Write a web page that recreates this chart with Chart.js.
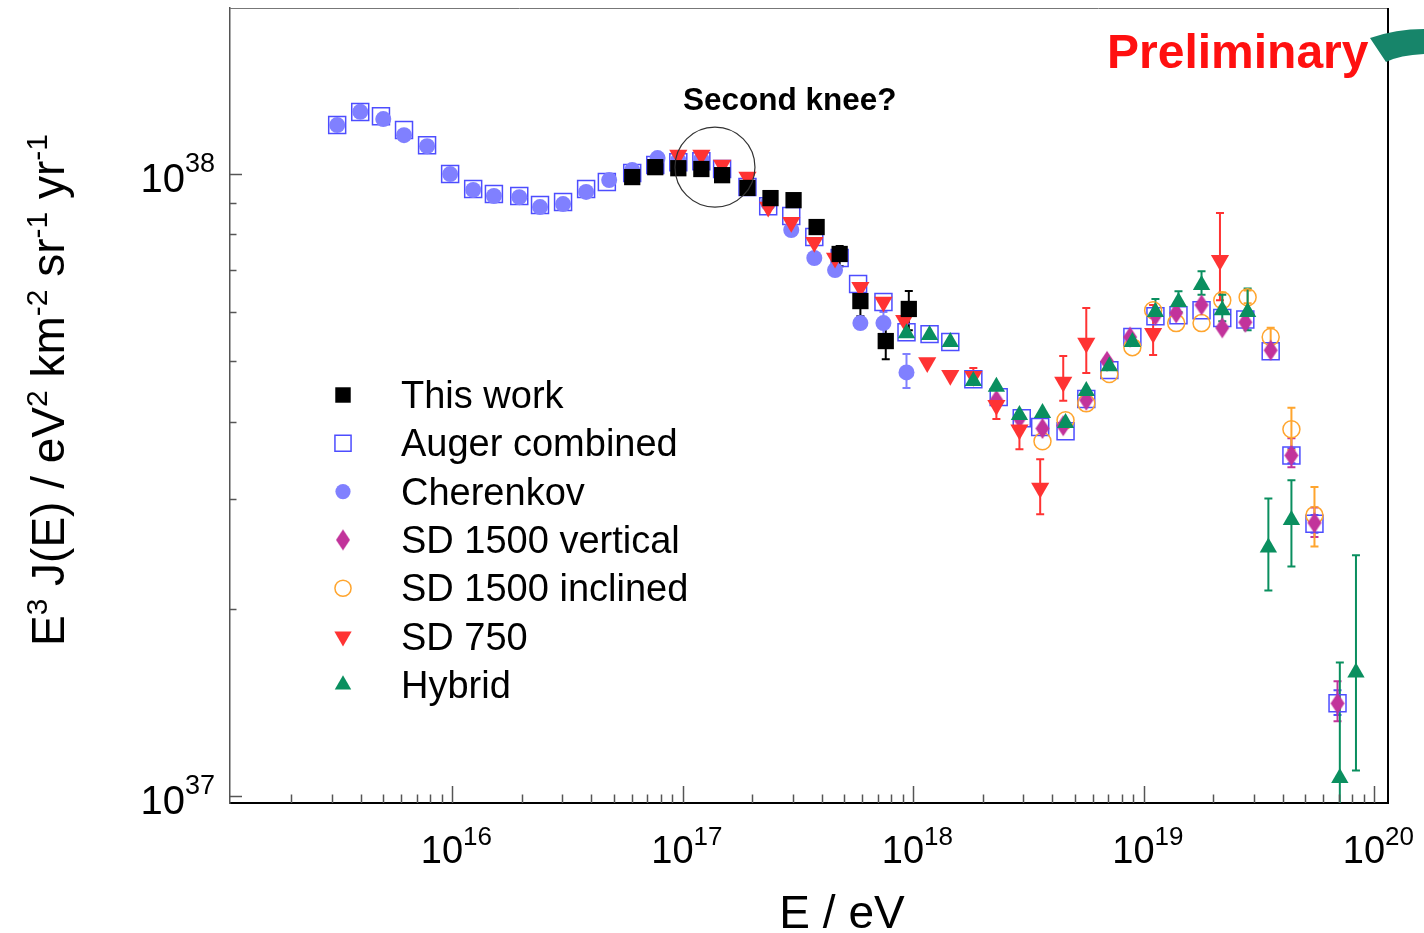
<!DOCTYPE html>
<html>
<head>
<meta charset="utf-8">
<script src="https://cdn.jsdelivr.net/npm/chart.js@4.4.1/dist/chart.umd.min.js"></script>
<style>
  html, body { margin: 0; padding: 0; background: #fff; }
  #wrap { width: 1424px; height: 933px; }
</style>
</head>
<body>
<div id="wrap"><canvas id="spectrum" width="1424" height="933"></canvas></div>
<script>
// Energies as lg(E/eV), flux E^3 J(E) in units of 1e38 eV^2 km^-2 sr^-1 yr^-1

const thisWorkLgE  = [16.78, 16.88, 16.98, 17.08, 17.17, 17.28, 17.38, 17.48, 17.58, 17.68, 17.77, 17.88, 17.98];
const thisWorkFlux = [0.989, 1.026, 1.022, 1.019, 0.996, 0.950, 0.915, 0.908, 0.822, 0.744, 0.625, 0.539, 0.607];
const thisWorkLo   = [null, null, null, null, null, null, null, null, 0.810, 0.711, 0.591, 0.504, 0.561];
const thisWorkHi   = [null, null, null, null, null, null, null, null, 0.836, 0.766, 0.658, 0.576, 0.649];

const augerLgE  = [15.50, 15.60, 15.69, 15.79, 15.89, 15.99, 16.09, 16.18, 16.29, 16.38, 16.48, 16.58, 16.67, 16.78, 16.88, 16.98,
                   17.08, 17.17, 17.28, 17.37, 17.47, 17.57, 17.68, 17.76, 17.87, 17.97,
                   18.07, 18.16, 18.26, 18.37, 18.47, 18.55, 18.66, 18.75, 18.85, 18.95,
                   19.05, 19.15, 19.25, 19.34, 19.44, 19.55, 19.64, 19.74, 19.84];
const augerFlux = [1.199, 1.258, 1.239, 1.177, 1.113, 1.000, 0.946, 0.929, 0.922, 0.892, 0.902, 0.946, 0.971, 1.004, 1.034, 1.045,
                   1.049, 1.019, 0.953, 0.888, 0.856, 0.792, 0.733, 0.666, 0.623, 0.557,
                   0.553, 0.537, 0.468, 0.438, 0.405, 0.392, 0.386, 0.435, 0.484, 0.547,
                   0.591, 0.593, 0.604, 0.587, 0.584, 0.519, 0.353, 0.274, 0.141];
const augerLo = augerLgE.map((_, i) => ({ 42: 0.343, 43: 0.265, 44: 0.135 })[i] ?? null);
const augerHi = augerLgE.map((_, i) => ({ 42: 0.362, 43: 0.283, 44: 0.148 })[i] ?? null);

const cherenkovLgE  = [15.50, 15.60, 15.70, 15.79, 15.89, 15.99, 16.09, 16.18, 16.29, 16.38, 16.48, 16.58, 16.68, 16.78, 16.89, 16.98,
                       17.08, 17.37, 17.47, 17.57, 17.66, 17.77, 17.87, 17.97];
const cherenkovFlux = [1.199, 1.259, 1.226, 1.155, 1.109, 1.000, 0.943, 0.922, 0.918, 0.885, 0.895, 0.936, 0.978, 1.015, 1.061, 1.053,
                       1.057, 0.898, 0.813, 0.733, 0.701, 0.576, 0.576, 0.480];
const cherenkovLo = cherenkovLgE.map((_, i) => ({ 22: 0.551, 23: 0.453 })[i] ?? null);
const cherenkovHi = cherenkovLgE.map((_, i) => ({ 22: 0.600, 23: 0.514 })[i] ?? null);

const sdVertLgE  = [18.36, 18.46, 18.56, 18.65, 18.75, 18.84, 18.94, 19.05, 19.14, 19.25, 19.34, 19.44, 19.55, 19.64, 19.74, 19.84];
const sdVertFlux = [0.433, 0.405, 0.390, 0.394, 0.433, 0.500, 0.547, 0.593, 0.598, 0.616, 0.566, 0.578, 0.521, 0.353, 0.275, 0.141];
const sdVertLo = sdVertLgE.map((_, i) => ({ 13: 0.338, 14: 0.261, 15: 0.132 })[i] ?? null);
const sdVertHi = sdVertLgE.map((_, i) => ({ 13: 0.376, 14: 0.291, 15: 0.153 })[i] ?? null);

const sdInclLgE  = [18.56, 18.66, 18.75, 18.85, 18.95, 19.04, 19.14, 19.25, 19.34, 19.45, 19.55, 19.64, 19.74];
const sdInclFlux = [0.372, 0.402, 0.428, 0.477, 0.527, 0.604, 0.576, 0.576, 0.627, 0.634, 0.547, 0.389, 0.283];
const sdInclLo = sdInclLgE.map((_, i) => ({ 8: 0.612, 9: 0.620, 10: 0.535, 11: 0.360, 12: 0.252 })[i] ?? null);
const sdInclHi = sdInclLgE.map((_, i) => ({ 8: 0.645, 9: 0.650, 10: 0.566, 11: 0.421, 12: 0.314 })[i] ?? null);

const sd750LgE  = [16.98, 17.08, 17.17, 17.28, 17.37, 17.47, 17.57, 17.66, 17.77, 17.87, 17.96, 18.06, 18.16, 18.26, 18.36, 18.46,
                   18.55, 18.65, 18.75, 19.04, 19.33];
const sd750Flux = [1.073, 1.073, 1.034, 0.989, 0.885, 0.837, 0.777, 0.733, 0.658, 0.623, 0.582, 0.498, 0.475, 0.473, 0.425, 0.388,
                   0.313, 0.463, 0.535, 0.555, 0.727];
const sd750Lo = sd750LgE.map((_, i) => ({ 13: 0.460, 14: 0.404, 15: 0.361, 16: 0.284, 17: 0.432, 18: 0.479, 19: 0.512, 20: 0.627 })[i] ?? null);
const sd750Hi = sd750LgE.map((_, i) => ({ 13: 0.488, 14: 0.436, 15: 0.412, 16: 0.348, 17: 0.510, 18: 0.609, 19: 0.616, 20: 0.866 })[i] ?? null);

const hybridLgE  = [17.97, 18.07, 18.16, 18.26, 18.36, 18.46, 18.56, 18.66, 18.75, 18.85, 18.95, 19.05, 19.15, 19.25, 19.34, 19.45,
                    19.54, 19.64, 19.85, 19.92];
const hybridFlux = [0.555, 0.551, 0.537, 0.465, 0.455, 0.410, 0.413, 0.398, 0.448, 0.491, 0.537, 0.600, 0.623, 0.663, 0.604, 0.600,
                    0.251, 0.278, 0.107, 0.158];
const hybridLo = hybridLgE.map((_, i) => ({ 11: 0.587, 12: 0.600, 13: 0.640, 14: 0.580, 15: 0.561, 16: 0.214, 17: 0.234, 18: 0.080, 19: 0.110 })[i] ?? null);
const hybridHi = hybridLgE.map((_, i) => ({ 11: 0.630, 12: 0.648, 13: 0.698, 14: 0.640, 15: 0.655, 16: 0.301, 17: 0.322, 18: 0.164, 19: 0.244 })[i] ?? null);

// axis
const xExpTicks = [16, 17, 18, 19, 20];
const yExpTicks = [37, 38];

const UNIT = 1e38;
const FONT = '"Liberation Sans", Arial, Helvetica, sans-serif';

const pts = (lg, f) => lg.map((v, i) => ({ x: Math.pow(10, v), y: f[i] * UNIT }));

// tall diamond marker like the ROOT one
function diamondMarker(w, h, color) {
  const c = document.createElement('canvas');
  c.width = w + 2; c.height = h + 2;
  const g = c.getContext('2d');
  g.fillStyle = color;
  g.beginPath();
  g.moveTo(c.width / 2, 1);
  g.lineTo(c.width - 1, c.height / 2);
  g.lineTo(c.width / 2, c.height - 1);
  g.lineTo(1, c.height / 2);
  g.closePath();
  g.fill();
  return c;
}

const C = {
  work: '#000000',
  auger: '#4d4dff',
  cher: '#8080ff',
  vert: '#c2339b',
  incl: '#ffa52e',
  sd750: '#ff3333',
  hybrid: '#0a8f5f'
};

function series(label, lg, f, lo, hi, style, extra) {
  return Object.assign({
    label,
    data: pts(lg, f),
    errLo: lo, errHi: hi,
    errColor: style.color,
    pointStyle: style.pointStyle,
    pointRadius: style.radius,
    pointRotation: style.rotation || 0,
    pointBackgroundColor: style.fill,
    pointBorderColor: style.color,
    pointBorderWidth: style.borderWidth || 0,
    showLine: false
  }, extra);
}

const datasets = [
  series('This work', thisWorkLgE, thisWorkFlux, thisWorkLo, thisWorkHi,
    { color: C.work, fill: C.work, pointStyle: 'rect', radius: 11.5 }, { order: 0 }),
  series('Auger combined', augerLgE, augerFlux, augerLo, augerHi,
    { color: C.auger, fill: 'rgba(0,0,0,0)', pointStyle: 'rect', radius: 12, borderWidth: 1.5 }, { order: 6 }),
  series('Cherenkov', cherenkovLgE, cherenkovFlux, cherenkovLo, cherenkovHi,
    { color: C.cher, fill: C.cher, pointStyle: 'circle', radius: 8 }, { order: 5 }),
  series('SD 1500 vertical', sdVertLgE, sdVertFlux, sdVertLo, sdVertHi,
    { color: C.vert, fill: C.vert, pointStyle: diamondMarker(14, 21, C.vert), radius: 10 }, { order: 3 }),
  series('SD 1500 inclined', sdInclLgE, sdInclFlux, sdInclLo, sdInclHi,
    { color: C.incl, fill: 'rgba(0,0,0,0)', pointStyle: 'circle', radius: 8.5, borderWidth: 1.5 }, { order: 4 }),
  series('SD 750', sd750LgE, sd750Flux, sd750Lo, sd750Hi,
    { color: C.sd750, fill: C.sd750, pointStyle: 'triangle', radius: 10.5, rotation: 180 }, { order: 2 }),
  series('Hybrid', hybridLgE, hybridFlux, hybridLo, hybridHi,
    { color: C.hybrid, fill: C.hybrid, pointStyle: 'triangle', radius: 10 }, { order: 1 })
];

// text with superscripts: parts = [[text, isSup], ...]
function richWidth(ctx, parts, size, supSize) {
  let w = 0;
  parts.forEach(([t, sup]) => {
    ctx.font = `${sup ? supSize : size}px ${FONT}`;
    w += ctx.measureText(t).width;
  });
  return w;
}
function drawRich(ctx, parts, x, y, size, supSize, rise) {
  let cx = x;
  parts.forEach(([t, sup]) => {
    ctx.font = `${sup ? supSize : size}px ${FONT}`;
    ctx.fillText(t, cx, sup ? y - rise : y);
    cx += ctx.measureText(t).width;
  });
}

function markerLegend(ctx, ds, x, y) {
  ctx.save();
  ctx.fillStyle = ds.pointBackgroundColor;
  ctx.strokeStyle = ds.pointBorderColor;
  ctx.lineWidth = ds.pointBorderWidth;
  if (typeof ds.pointStyle === 'object') {
    ctx.drawImage(ds.pointStyle, x - ds.pointStyle.width / 2, y - ds.pointStyle.height / 2);
  } else {
    const opts = { pointStyle: ds.pointStyle, rotation: ds.pointRotation, radius: ds.pointRadius * 0.95, borderWidth: ds.pointBorderWidth };
    Chart.helpers.drawPoint(ctx, opts, x, y);
  }
  ctx.restore();
}

const errorBars = {
  id: 'errorBars',
  beforeDatasetsDraw(chart) {
    const { ctx, chartArea: a, scales: { x, y } } = chart;
    ctx.save();
    ctx.beginPath();
    ctx.rect(a.left, a.top, a.right - a.left, a.bottom - a.top);
    ctx.clip();
    chart.data.datasets.forEach(ds => {
      ctx.strokeStyle = ds.errColor;
      ctx.lineWidth = 2;
      ds.data.forEach((p, i) => {
        const lo = ds.errLo[i], hi = ds.errHi[i];
        if (lo == null || hi == null) return;
        const px = x.getPixelForValue(p.x);
        const y1 = y.getPixelForValue(lo * UNIT), y2 = y.getPixelForValue(hi * UNIT);
        ctx.beginPath();
        ctx.moveTo(px, y1); ctx.lineTo(px, y2);
        ctx.moveTo(px - 4, y1); ctx.lineTo(px + 4, y1);
        ctx.moveTo(px - 4, y2); ctx.lineTo(px + 4, y2);
        ctx.stroke();
      });
    });
    ctx.restore();
  }
};

const frame = {
  id: 'frame',
  afterDraw(chart) {
    const { ctx, chartArea: a, scales: { x, y } } = chart;
    ctx.save();

    // top + right frame
    ctx.lineWidth = 1;
    ctx.strokeStyle = '#777';
    ctx.beginPath(); ctx.moveTo(a.left, a.top + 0.5); ctx.lineTo(a.right, a.top + 0.5); ctx.stroke();
    ctx.lineWidth = 2;
    ctx.strokeStyle = '#000';
    ctx.beginPath(); ctx.moveTo(a.right, a.top); ctx.lineTo(a.right, a.bottom); ctx.stroke();

    // inward ticks
    ctx.strokeStyle = '#555';
    ctx.lineWidth = 1.5;
    for (let e = 15; e <= 20; e++) {
      for (let k = 1; k <= 9; k++) {
        const v = k * Math.pow(10, e);
        if (v < x.min || v > x.max) continue;
        const px = Math.round(x.getPixelForValue(v)) + 0.5;
        const len = k === 1 ? 17 : 8.5;
        ctx.beginPath(); ctx.moveTo(px, a.bottom); ctx.lineTo(px, a.bottom - len); ctx.stroke();
      }
    }
    for (let e = 37; e <= 38; e++) {
      for (let k = 1; k <= 9; k++) {
        const v = k * Math.pow(10, e);
        if (v < y.min || v > y.max) continue;
        const py = Math.round(y.getPixelForValue(v)) + 0.5;
        const len = k === 1 ? 12 : 6.5;
        ctx.beginPath(); ctx.moveTo(a.left, py); ctx.lineTo(a.left + len, py); ctx.stroke();
      }
    }

    // tick labels 10^n
    ctx.fillStyle = '#000';
    ctx.textBaseline = 'alphabetic';
    ctx.textAlign = 'left';
    xExpTicks.forEach(e => {
      const px = x.getPixelForValue(Math.pow(10, e));
      const parts = [['10', 0], [String(e), 1]];
      const w = richWidth(ctx, parts, 38, 26);
      drawRich(ctx, parts, px - w / 2 + 4, a.bottom + 60, 38, 26, 18);
    });
    yExpTicks.forEach(e => {
      const py = y.getPixelForValue(Math.pow(10, e));
      const parts = [['10', 0], [String(e), 1]];
      const w = richWidth(ctx, parts, 40, 27);
      drawRich(ctx, parts, 215 - w, py + 18, 40, 27, 20);
    });

    // axis titles
    ctx.font = `46px ${FONT}`;
    ctx.textAlign = 'center';
    ctx.fillText('E / eV', 842, 928);
    ctx.textAlign = 'left';
    const yt = [['E', 0], ['3', 1], [' J(E) / eV', 0], ['2', 1], [' km', 0], ['-2', 1], [' sr', 0], ['-1', 1], [' yr', 0], ['-1', 1]];
    const yw = richWidth(ctx, yt, 46, 30);
    ctx.save();
    ctx.translate(64, 390);
    ctx.rotate(-Math.PI / 2);
    drawRich(ctx, yt, -yw / 2, 0, 46, 30, 17);
    ctx.restore();

    // legend
    chart.data.datasets.forEach((ds, i) => {
      const cy = 395 + i * 48.3;
      markerLegend(ctx, ds, 343, cy);
      ctx.fillStyle = '#000';
      ctx.font = `38px ${FONT}`;
      ctx.textAlign = 'left';
      ctx.fillText(ds.label, 401, cy + 13);
    });

    // "Second knee?" annotation
    ctx.font = `bold 31.5px ${FONT}`;
    ctx.fillStyle = '#000';
    ctx.fillText('Second knee?', 683, 110);
    ctx.strokeStyle = '#333';
    ctx.lineWidth = 1.2;
    ctx.beginPath();
    ctx.arc(x.getPixelForValue(Math.pow(10, 17.139)), y.getPixelForValue(1.026 * UNIT), 40, 0, Math.PI * 2);
    ctx.stroke();

    // Preliminary stamp + logo swoosh
    ctx.font = `bold 48px ${FONT}`;
    ctx.fillStyle = '#ff1010';
    ctx.fillText('Preliminary', 1107, 68);
    ctx.fillStyle = '#17856a';
    ctx.beginPath();
    ctx.moveTo(1370, 38);
    ctx.quadraticCurveTo(1396, 29, 1424, 29);
    ctx.lineTo(1424, 54);
    ctx.quadraticCurveTo(1400, 55, 1386, 62);
    ctx.closePath();
    ctx.fill();

    ctx.restore();
  }
};

new Chart(document.getElementById('spectrum'), {
  type: 'scatter',
  data: { datasets },
  options: {
    responsive: false,
    devicePixelRatio: 1,
    animation: false,
    events: [],
    layout: { autoPadding: false, padding: { top: 8, right: 36, left: 0, bottom: 0 } },
    plugins: { legend: { display: false }, tooltip: { enabled: false } },
    scales: {
      x: {
        type: 'logarithmic',
        min: Math.pow(10, 15.035),
        max: Math.pow(10, 20.059),
        grid: { display: false, drawTicks: false },
        border: { display: true, color: '#000', width: 2 },
        ticks: { display: false },
        afterFit: s => { s.height = 130; }
      },
      y: {
        type: 'logarithmic',
        min: Math.pow(10, 36.989),
        max: Math.pow(10, 38.267),
        grid: { display: false, drawTicks: false },
        border: { display: true, color: '#555', width: 1.5 },
        ticks: { display: false },
        afterFit: s => { s.width = 230; }
      }
    }
  },
  plugins: [errorBars, frame]
});
</script>
</body>
</html>
